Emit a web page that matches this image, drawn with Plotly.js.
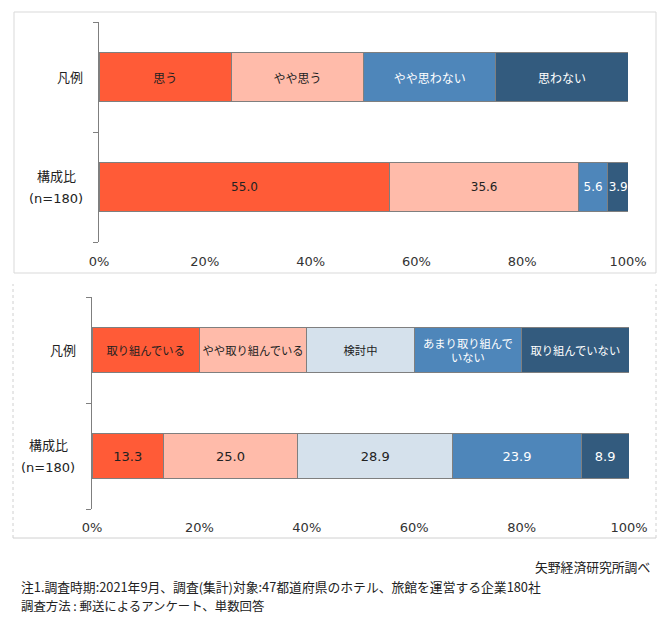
<!DOCTYPE html>
<html>
<head>
<meta charset="utf-8">
<script src="https://cdn.plot.ly/plotly-3.0.1.min.js"></script>
<style>html,body{margin:0;padding:0;background:#fff;}</style>
</head>
<body>
<div id="chart" style="width:666px;height:640px;"></div>
<script>
// ---- data ----
const rowLabels = ['構成比<br>(n=180)', '凡例'];
// Panel 1
const cats1 = ['思う', 'やや思う', 'やや思わない', '思わない'];
const legendVals1 = [25, 25, 25, 25];
const vals1 = [55.0, 35.6, 5.6, 3.9];
const colors1 = ['#FF5B37', '#FFBBAA', '#4E86BA', '#335B7E'];
const textColors1 = ['#222222', '#222222', '#FFFFFF', '#FFFFFF'];
// Panel 2
const cats2 = ['取り組んでいる', 'やや取り組んでいる', '検討中', 'あまり取り組んで<br>いない', '取り組んでいない'];
const legendVals2 = [20, 20, 20, 20, 20];
const vals2 = [13.3, 25.0, 28.9, 23.9, 8.9];
const colors2 = ['#FF5B37', '#FFBBAA', '#D5E1EC', '#4E86BA', '#335B7E'];
const textColors2 = ['#222222', '#222222', '#222222', '#FFFFFF', '#FFFFFF'];
const xTicks = [0, 20, 40, 60, 80, 100];
const xTickText = ['0%', '20%', '40%', '60%', '80%', '100%'];

const W = 666, H = 640;
const FONT = '"Noto Sans CJK JP", "Noto Sans", sans-serif';
const NUMFONT = '"DejaVu Sans", "Noto Sans CJK JP", sans-serif';
const px = v => v / W;
const py = v => 1 - v / H;

const traces = [];
function addPanel(cats, legendVals, vals, colors, tcolors, xa, ya, numSize, labSize, width) {
  cats.forEach((c, i) => {
    traces.push({
      type: 'bar', orientation: 'h',
      x: [vals[i], legendVals[i]],
      y: [0, 1],
      xaxis: xa, yaxis: ya,
      width: width,
      marker: {color: colors[i], line: {color: '#7F7F7F', width: 1}},
      text: [vals[i].toFixed(1), c],
      textposition: 'inside',
      insidetextanchor: 'middle',
      textangle: 0,
      constraintext: 'none',
      textfont: {family: [NUMFONT, FONT], size: [numSize, labSize], color: tcolors[i]},
      hoverinfo: 'skip',
      showlegend: false
    });
  });
}
addPanel(cats1, legendVals1, vals1, colors1, textColors1, 'x', 'y', 12, 12, 0.44);
addPanel(cats2, legendVals2, vals2, colors2, textColors2, 'x2', 'y2', 13, 11.3, 0.43);

function xAxis(d0, d1, anchor, standoff) {
  return {
    domain: [px(d0), px(d1)], anchor: anchor, range: [0, 100],
    tickvals: xTicks, ticktext: xTickText, showgrid: false, zeroline: false,
    showline: false, ticks: '', ticklabelstandoff: standoff,
    tickfont: {family: NUMFONT, size: 13, color: '#333333'}, fixedrange: true
  };
}
function yAxis(t, b, anchor) {
  return {
    domain: [py(b), py(t)], anchor: anchor, type: 'linear',
    range: [-0.5, 1.5], tickvals: [-0.5, 0.5, 1.5], showticklabels: false,
    ticks: 'outside', ticklen: 5, tickcolor: '#7F7F7F',
    showline: true, linecolor: '#7F7F7F', linewidth: 1, showgrid: false,
    zeroline: false, fixedrange: true
  };
}

const annotations = [];
function rowAnn(yref, rightPx, centerPx) {
  rowLabels.forEach((t, i) => {
    const lines = t.split('<br>');
    if (lines.length === 1) {
      annotations.push({xref: 'paper', yref: yref, x: px(rightPx), y: i,
        xanchor: 'right', yanchor: 'middle', text: t, showarrow: false,
        font: {family: NUMFONT, size: 13, color: '#222222'}});
    } else {
      lines.forEach((ln, k) => {
        annotations.push({xref: 'paper', yref: yref, x: px(centerPx), y: i,
          xanchor: 'center', yanchor: 'middle', text: ln, showarrow: false,
          yshift: (lines.length - 1) * 11 - k * 22,
          font: {family: NUMFONT, size: 13, color: '#222222'}});
      });
    }
  });
}
rowAnn('y', 85, 56);
rowAnn('y2', 78, 48);

annotations.push(
  {xref: 'paper', yref: 'paper', x: px(652), y: py(566), xanchor: 'right', yanchor: 'middle',
   text: '矢野経済研究所調べ', showarrow: false, font: {family: FONT, size: 12.8, color: '#222222'}},
  {xref: 'paper', yref: 'paper', x: px(19), y: py(586), xanchor: 'left', yanchor: 'middle',
   text: '注1.調査時期:2021年9月、調査(集計)対象:47都道府県のホテル、旅館を運営する企業180社',
   showarrow: false, font: {family: FONT, size: 12.8, color: '#222222'}},
  {xref: 'paper', yref: 'paper', x: px(19), y: py(606), xanchor: 'left', yanchor: 'middle',
   text: '調査方法 : 郵送によるアンケート、単数回答',
   showarrow: false, font: {family: FONT, size: 12.4, color: '#222222'}}
);

const layout = {
  width: W, height: H,
  margin: {l: 0, r: 0, t: 0, b: 0},
  paper_bgcolor: '#FFFFFF', plot_bgcolor: 'rgba(0,0,0,0)',
  barmode: 'stack',
  xaxis: xAxis(99, 628, 'y', 10),
  yaxis: yAxis(22, 242, 'x'),
  xaxis2: xAxis(92, 629, 'y2', 9),
  yaxis2: yAxis(297, 509, 'x2'),
  shapes: [
    {type: 'rect', xref: 'paper', yref: 'paper', x0: px(14), x1: px(656), y0: py(273), y1: py(12),
     line: {color: '#D9D9D9', width: 1}},
    {type: 'line', xref: 'paper', yref: 'paper', x0: px(13), x1: px(13), y0: py(538), y1: py(284),
     line: {color: '#D0D0D0', width: 1, dash: 'dot'}},
    {type: 'line', xref: 'paper', yref: 'paper', x0: px(656), x1: px(656), y0: py(538), y1: py(284),
     line: {color: '#D0D0D0', width: 1, dash: 'dot'}},
    {type: 'line', xref: 'paper', yref: 'paper', x0: px(13), x1: px(656), y0: py(538), y1: py(538),
     line: {color: '#D0D0D0', width: 1}}
  ],
  annotations: annotations
};

Plotly.newPlot('chart', traces, layout, {displayModeBar: false, staticPlot: true});
</script>
</body>
</html>
